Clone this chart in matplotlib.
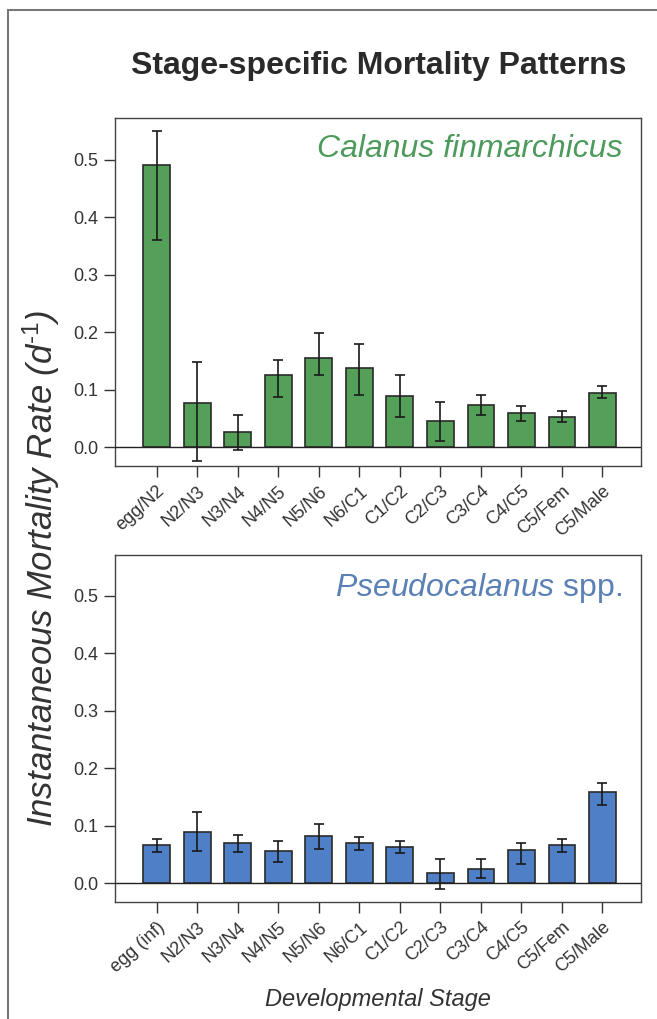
import numpy as np
import matplotlib
matplotlib.use('Agg')
import matplotlib.pyplot as plt
from matplotlib.patches import Rectangle

plt.rcParams['font.family'] = ['Liberation Sans', 'DejaVu Sans']
plt.rcParams['mathtext.fontset'] = 'custom'
plt.rcParams['mathtext.rm'] = 'Liberation Sans'
plt.rcParams['mathtext.it'] = 'Liberation Sans:italic'

# Calanus finmarchicus
cal_stages = ['egg/N2', 'N2/N3', 'N3/N4', 'N4/N5', 'N5/N6', 'N6/C1',
              'C1/C2', 'C2/C3', 'C3/C4', 'C4/C5', 'C5/Fem', 'C5/Male']
cal_rate = [0.492, 0.076, 0.026, 0.125, 0.155, 0.137,
            0.089, 0.046, 0.073, 0.060, 0.053, 0.094]
cal_low = [0.361, -0.024, -0.006, 0.088, 0.126, 0.090,
           0.053, 0.010, 0.056, 0.046, 0.043, 0.085]
cal_high = [0.550, 0.148, 0.056, 0.151, 0.199, 0.179,
            0.126, 0.078, 0.090, 0.071, 0.063, 0.107]

# Pseudocalanus spp.
pse_stages = ['egg (inf)', 'N2/N3', 'N3/N4', 'N4/N5', 'N5/N6', 'N6/C1',
              'C1/C2', 'C2/C3', 'C3/C4', 'C4/C5', 'C5/Fem', 'C5/Male']
pse_rate = [0.066, 0.089, 0.070, 0.056, 0.082, 0.070,
            0.063, 0.017, 0.025, 0.058, 0.066, 0.159]
pse_low = [0.054, 0.055, 0.054, 0.036, 0.060, 0.058,
           0.052, -0.010, 0.008, 0.033, 0.054, 0.136]
pse_high = [0.076, 0.123, 0.084, 0.074, 0.103, 0.081,
            0.073, 0.042, 0.042, 0.069, 0.076, 0.174]

yticks = [0.0, 0.1, 0.2, 0.3, 0.4, 0.5]


def panel(ax, stages, rate, low, high, fc, ylim):
    x = np.arange(len(stages))
    rate = np.array(rate)
    yerr = [rate - np.array(low), np.array(high) - rate]
    ax.bar(x, rate, width=0.66, color=fc, edgecolor='#2a2a2a', linewidth=1.2, zorder=2)
    ax.errorbar(x, rate, yerr=yerr, fmt='none', ecolor='#1a1a1a',
                elinewidth=1.2, capsize=3.5, capthick=1.2, zorder=3)
    ax.axhline(0, color='#222222', lw=1.0, zorder=4)
    ax.set_xlim(-1.03, 11.95)
    ax.set_ylim(*ylim)
    ax.set_yticks(yticks)
    ax.set_yticklabels(['%.1f' % v for v in yticks])
    ax.set_xticks(x)
    ax.set_xticklabels(stages, rotation=42, ha='right', rotation_mode='anchor')
    ax.tick_params(direction='out', length=8, width=1.0, colors='#333333',
                   labelsize=13, labelcolor='#333333', pad=4)
    for s in ax.spines.values():
        s.set_color('#444444')
        s.set_linewidth(1.0)


fig = plt.figure(figsize=(6.57, 10.19), dpi=100)

# outer frame
fig.patches.append(Rectangle((8 / 657, -0.05), 1.1, 1 - 10 / 1019 + 0.05,
                             transform=fig.transFigure, fill=False,
                             edgecolor='#777777', lw=1.5))

ax1 = fig.add_axes([0.175, 0.5427, 0.8006, 0.3415])
ax2 = fig.add_axes([0.175, 0.1148, 0.8006, 0.3405])

panel(ax1, cal_stages, cal_rate, cal_low, cal_high, '#54a058', (-0.033, 0.573))
panel(ax2, pse_stages, pse_rate, pse_low, pse_high, '#4f7fc6', (-0.033, 0.571))

ax1.text(0.965, 0.912, 'Calanus finmarchicus', transform=ax1.transAxes,
         ha='right', va='center', fontsize=23, style='italic', color='#4e9a5c')
ax2.text(0.965, 0.906, r'$\it{Pseudocalanus}$ spp.', transform=ax2.transAxes,
         ha='right', va='center', fontsize=23, color='#5a80b5')

fig.text(0.577, 0.935, 'Stage-specific Mortality Patterns', ha='center', va='center',
         fontsize=23, fontweight='bold', color='#2a2a2a')
fig.text(0.063, 0.442, 'Instantaneous Mortality Rate (d$^{\\it{\u2010}1}$)', rotation=90,
         ha='center', va='center', fontsize=25, style='italic', color='#333333')
fig.text(0.576, 0.019, 'Developmental Stage', ha='center', va='center',
         fontsize=17, style='italic', color='#333333')

fig.savefig('out.png', dpi=100)
